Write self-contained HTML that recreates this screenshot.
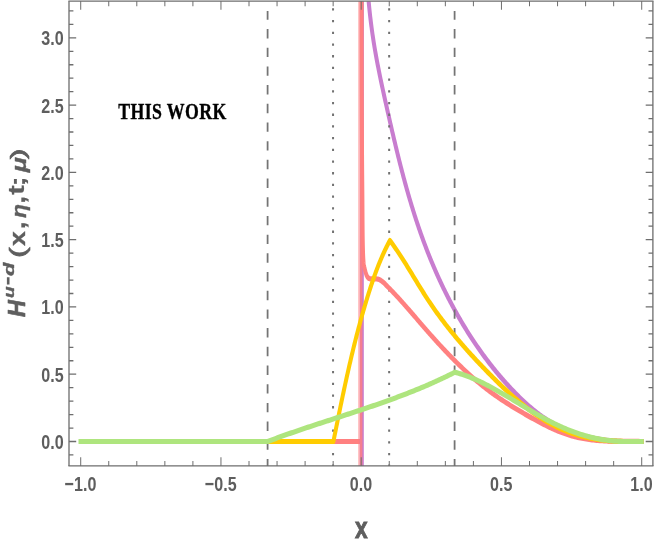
<!DOCTYPE html>
<html><head><meta charset="utf-8"><title>plot</title>
<style>html,body{margin:0;padding:0;background:#fff}svg{display:block}text{font-family:"Liberation Sans",sans-serif}</style></head><body>
<svg width="654" height="545" viewBox="0 0 654 545">
<rect width="654" height="545" fill="#fff"/>
<g transform="scale(0.7700,1)">
<defs><clipPath id="c"><rect x="89.61" y="1.20" width="758.31" height="464.70"/></clipPath></defs>
<g clip-path="url(#c)" fill="none" stroke-linejoin="round" stroke-linecap="square">
<path d="M105.19 441.50 L469.74 441.50 L469.87 480.00 L470.00 -90.00 L474.03 -90.00 L474.81 -80.00 L474.79 -78.51 L474.78 -77.01 L474.77 -75.52 L474.77 -74.03 L474.77 -72.53 L474.77 -71.04 L474.77 -69.55 L474.78 -68.05 L474.79 -66.56 L474.80 -65.07 L474.81 -63.57 L474.83 -62.08 L474.85 -60.59 L474.88 -59.09 L474.90 -57.60 L474.93 -56.11 L474.97 -54.61 L475.00 -53.12 L475.04 -51.62 L475.08 -50.13 L475.13 -48.64 L475.18 -47.14 L475.23 -45.65 L475.29 -44.16 L475.35 -42.66 L475.41 -41.17 L475.48 -39.67 L475.55 -38.18 L475.62 -36.69 L475.70 -35.19 L475.78 -33.70 L475.86 -32.21 L475.95 -30.71 L476.04 -29.22 L476.14 -27.73 L476.23 -26.23 L476.34 -24.74 L476.44 -23.25 L476.55 -21.76 L476.67 -20.26 L476.79 -18.77 L476.91 -17.28 L477.03 -15.78 L477.16 -14.29 L477.30 -12.80 L477.44 -11.31 L477.58 -9.82 L477.72 -8.32 L477.87 -6.83 L478.03 -5.34 L478.19 -3.85 L478.35 -2.36 L478.52 -0.87 L478.69 0.63 L478.86 2.12 L479.04 3.61 L479.23 5.10 L479.42 6.59 L479.61 8.08 L479.81 9.57 L480.01 11.06 L480.22 12.55 L480.43 14.04 L480.64 15.53 L480.86 17.02 L481.09 18.50 L481.32 19.99 L481.55 21.48 L481.79 22.97 L482.04 24.46 L482.29 25.95 L482.54 27.43 L482.80 28.92 L483.06 30.41 L483.33 31.89 L483.60 33.38 L483.88 34.87 L484.17 36.35 L484.46 37.84 L484.75 39.32 L485.05 40.81 L485.35 42.29 L485.66 43.78 L485.98 45.26 L486.29 46.75 L486.62 48.23 L486.95 49.71 L487.28 51.20 L487.61 52.68 L487.96 54.16 L488.30 55.65 L488.65 57.13 L489.00 58.61 L489.36 60.09 L489.72 61.57 L490.09 63.05 L490.45 64.53 L490.83 66.01 L491.20 67.49 L491.58 68.97 L491.96 70.45 L492.35 71.93 L492.73 73.40 L493.12 74.88 L493.52 76.36 L493.91 77.83 L494.31 79.31 L494.71 80.79 L495.11 82.26 L495.52 83.74 L495.93 85.21 L496.34 86.69 L496.75 88.16 L497.16 89.63 L497.58 91.11 L498.00 92.58 L498.41 94.05 L498.83 95.52 L499.26 96.99 L499.68 98.46 L500.10 99.93 L500.53 101.40 L500.95 102.87 L501.38 104.34 L501.81 105.81 L502.24 107.28 L502.66 108.75 L503.09 110.21 L503.52 111.68 L503.95 113.14 L504.38 114.61 L504.81 116.08 L505.25 117.54 L505.68 119.00 L506.11 120.47 L506.54 121.93 L506.98 123.39 L507.41 124.85 L507.85 126.31 L508.29 127.77 L508.72 129.23 L509.16 130.69 L509.60 132.15 L510.04 133.61 L510.49 135.07 L510.93 136.53 L511.38 137.98 L511.82 139.44 L512.27 140.89 L512.72 142.35 L513.17 143.80 L513.62 145.26 L514.07 146.71 L514.53 148.16 L514.98 149.61 L515.44 151.06 L515.90 152.51 L516.37 153.96 L516.83 155.41 L517.29 156.86 L517.76 158.31 L518.23 159.76 L518.70 161.20 L519.18 162.65 L519.65 164.09 L520.13 165.54 L520.61 166.98 L521.10 168.43 L521.58 169.87 L522.07 171.31 L522.56 172.75 L523.05 174.19 L523.55 175.63 L524.05 177.07 L524.55 178.51 L525.05 179.95 L525.56 181.38 L526.06 182.82 L526.58 184.25 L527.09 185.69 L527.61 187.12 L528.13 188.56 L528.65 189.99 L529.18 191.42 L529.71 192.85 L530.24 194.28 L530.78 195.71 L531.32 197.14 L531.86 198.57 L532.41 199.99 L532.96 201.42 L533.51 202.85 L534.07 204.27 L534.63 205.69 L535.20 207.12 L535.77 208.54 L536.34 209.96 L536.91 211.38 L537.49 212.80 L538.08 214.22 L538.67 215.64 L539.26 217.05 L539.85 218.47 L540.45 219.89 L541.06 221.30 L541.67 222.71 L542.28 224.13 L542.90 225.54 L543.52 226.95 L544.14 228.36 L544.77 229.77 L545.41 231.18 L546.05 232.59 L546.69 233.99 L547.34 235.40 L548.00 236.80 L548.65 238.21 L549.32 239.61 L549.99 241.01 L550.66 242.42 L551.34 243.82 L552.02 245.22 L552.71 246.61 L553.40 248.01 L554.10 249.41 L554.80 250.80 L555.51 252.20 L556.23 253.59 L556.95 254.98 L557.67 256.38 L558.40 257.77 L559.14 259.16 L559.88 260.54 L560.62 261.93 L561.38 263.32 L562.13 264.70 L562.89 266.08 L563.66 267.47 L564.43 268.85 L565.21 270.23 L566.00 271.60 L566.79 272.98 L567.58 274.35 L568.38 275.73 L569.19 277.10 L570.00 278.47 L570.81 279.83 L571.63 281.20 L572.46 282.57 L573.29 283.93 L574.13 285.29 L574.97 286.65 L575.82 288.01 L576.68 289.36 L577.54 290.71 L578.40 292.07 L579.27 293.42 L580.15 294.76 L581.03 296.11 L581.92 297.45 L582.81 298.79 L583.71 300.13 L584.62 301.47 L585.53 302.80 L586.44 304.14 L587.36 305.47 L588.29 306.79 L589.22 308.12 L590.16 309.44 L591.11 310.76 L592.05 312.08 L593.01 313.40 L593.97 314.71 L594.94 316.02 L595.91 317.33 L596.89 318.63 L597.87 319.93 L598.86 321.23 L599.85 322.53 L600.85 323.82 L601.86 325.12 L602.87 326.40 L603.89 327.69 L604.92 328.97 L605.94 330.25 L606.98 331.53 L608.02 332.80 L609.07 334.07 L610.12 335.34 L611.18 336.61 L612.24 337.87 L613.31 339.13 L614.39 340.38 L615.47 341.63 L616.56 342.88 L617.65 344.13 L618.75 345.37 L619.86 346.61 L620.97 347.84 L622.09 349.07 L623.21 350.30 L624.34 351.52 L625.48 352.74 L626.62 353.96 L627.76 355.18 L628.92 356.39 L630.08 357.59 L631.24 358.79 L632.41 359.99 L633.59 361.19 L634.77 362.38 L635.96 363.57 L637.16 364.75 L638.36 365.93 L639.56 367.10 L640.78 368.28 L642.00 369.44 L643.22 370.61 L644.45 371.77 L645.69 372.92 L646.94 374.07 L648.19 375.22 L649.44 376.36 L650.70 377.50 L651.97 378.63 L653.25 379.76 L654.53 380.89 L655.81 382.01 L657.11 383.12 L658.41 384.24 L659.71 385.34 L661.02 386.45 L662.34 387.54 L663.66 388.64 L664.99 389.73 L666.33 390.81 L667.67 391.89 L669.02 392.96 L670.38 394.03 L671.74 395.10 L673.11 396.15 L674.49 397.20 L675.87 398.25 L677.27 399.28 L678.67 400.31 L680.07 401.33 L681.49 402.35 L682.91 403.35 L684.35 404.35 L685.79 405.34 L687.24 406.32 L688.70 407.29 L690.17 408.25 L691.65 409.20 L693.14 410.14 L694.63 411.07 L696.14 411.99 L697.66 412.90 L699.19 413.79 L700.72 414.68 L702.27 415.55 L703.83 416.41 L705.40 417.26 L706.99 418.10 L708.58 418.92 L710.18 419.73 L711.80 420.52 L713.43 421.30 L715.07 422.07 L716.72 422.82 L718.39 423.55 L720.06 424.28 L721.75 424.98 L723.45 425.67 L725.16 426.35 L726.88 427.01 L728.61 427.66 L730.36 428.29 L732.11 428.91 L733.87 429.51 L735.64 430.10 L737.43 430.67 L739.22 431.23 L741.02 431.77 L742.83 432.30 L744.65 432.81 L746.48 433.30 L748.32 433.78 L750.16 434.25 L752.01 434.70 L753.88 435.13 L755.74 435.55 L757.62 435.95 L759.50 436.34 L761.39 436.71 L763.29 437.06 L765.19 437.41 L767.10 437.73 L769.01 438.05 L770.93 438.34 L772.85 438.63 L774.78 438.90 L776.71 439.16 L778.65 439.40 L780.59 439.63 L782.53 439.84 L784.48 440.05 L786.42 440.24 L788.37 440.41 L790.32 440.58 L792.28 440.73 L794.23 440.87 L796.19 440.99 L798.14 441.11 L800.10 441.21 L802.05 441.30 L804.01 441.38 L805.96 441.45 L807.92 441.50 L809.87 441.50 L811.82 441.50 L813.77 441.50 L815.71 441.50 L817.66 441.50 L819.60 441.50 L821.54 441.50 L823.47 441.50 L825.40 441.50 L827.33 441.50 L829.25 441.50 L831.16 441.50 L833.07 441.50" stroke="#c87dcf" stroke-width="5.20"/>
<path d="M347.53 11.00 V465.90" stroke="#747474" stroke-width="2.3" stroke-dasharray="9.4 9.295" stroke-dashoffset="0.7" stroke-linecap="butt"/>
<path d="M590.39 11.00 V465.90" stroke="#747474" stroke-width="2.3" stroke-dasharray="9.4 9.295" stroke-dashoffset="0.7" stroke-linecap="butt"/>
<path d="M432.53 8.30 V465.90" stroke="#727272" stroke-width="2.6" stroke-dasharray="2.3 9.4" stroke-dashoffset="0" stroke-linecap="butt"/>
<path d="M505.39 8.30 V465.90" stroke="#727272" stroke-width="2.6" stroke-dasharray="2.3 9.4" stroke-dashoffset="0" stroke-linecap="butt"/>
<path d="M105.19 441.50 L464.55 441.50" stroke="#ff8080" stroke-width="5.20"/>
<path d="M466.10 -5V480" stroke="#ff8080" stroke-width="2.1" stroke-opacity="0.5"/>
<path d="M468.90 -5V480" stroke="#ff8080" stroke-width="3.5" stroke-opacity="0.8"/>
<path d="M469.61 -90.00 L469.61 -90.00 L469.61 -89.50 L469.61 -89.00 L469.61 -88.50 L469.61 -88.00 L469.61 -87.50 L469.61 -87.00 L469.61 -86.50 L469.61 -86.00 L469.61 -85.50 L469.61 -85.00 L469.61 -84.50 L469.61 -84.00 L469.61 -83.50 L469.61 -83.00 L469.61 -82.50 L469.61 -82.00 L469.61 -81.50 L469.61 -81.00 L469.61 -80.50 L469.61 -80.01 L469.61 -79.51 L469.61 -79.01 L469.61 -78.51 L469.61 -78.01 L469.61 -77.51 L469.61 -77.01 L469.61 -76.51 L469.61 -76.01 L469.61 -75.51 L469.61 -75.01 L469.61 -74.51 L469.61 -74.01 L469.61 -73.51 L469.61 -73.01 L469.61 -72.51 L469.61 -72.01 L469.61 -71.51 L469.61 -71.01 L469.61 -70.51 L469.61 -70.01 L469.61 -69.51 L469.61 -69.01 L469.61 -68.51 L469.61 -68.01 L469.61 -67.51 L469.61 -67.01 L469.61 -66.51 L469.61 -66.01 L469.61 -65.51 L469.61 -65.01 L469.61 -64.51 L469.61 -64.01 L469.61 -63.51 L469.61 -63.01 L469.61 -62.51 L469.61 -62.01 L469.61 -61.51 L469.61 -61.01 L469.61 -60.52 L469.61 -60.02 L469.61 -59.52 L469.61 -59.02 L469.61 -58.52 L469.61 -58.02 L469.61 -57.52 L469.61 -57.02 L469.61 -56.52 L469.61 -56.02 L469.61 -55.52 L469.61 -55.02 L469.61 -54.52 L469.61 -54.02 L469.61 -53.52 L469.61 -53.02 L469.61 -52.52 L469.61 -52.02 L469.61 -51.52 L469.61 -51.02 L469.61 -50.52 L469.61 -50.02 L469.61 -49.52 L469.61 -49.02 L469.61 -48.52 L469.61 -48.02 L469.61 -47.52 L469.61 -47.02 L469.61 -46.52 L469.61 -46.02 L469.61 -45.52 L469.61 -45.02 L469.61 -44.52 L469.61 -44.02 L469.61 -43.52 L469.61 -43.02 L469.61 -42.52 L469.61 -42.02 L469.61 -41.52 L469.61 -41.03 L469.61 -40.53 L469.61 -40.03 L469.61 -39.53 L469.61 -39.03 L469.61 -38.53 L469.61 -38.03 L469.61 -37.53 L469.61 -37.03 L469.61 -36.53 L469.61 -36.03 L469.61 -35.53 L469.61 -35.03 L469.61 -34.53 L469.61 -34.03 L469.61 -33.53 L469.61 -33.03 L469.61 -32.53 L469.61 -32.03 L469.61 -31.53 L469.61 -31.03 L469.61 -30.53 L469.61 -30.03 L469.61 -29.53 L469.61 -29.03 L469.61 -28.53 L469.61 -28.03 L469.61 -27.53 L469.61 -27.03 L469.61 -26.53 L469.61 -26.03 L469.61 -25.53 L469.61 -25.03 L469.61 -24.53 L469.61 -24.03 L469.61 -23.53 L469.61 -23.03 L469.61 -22.53 L469.61 -22.03 L469.61 -21.53 L469.61 -21.04 L469.61 -20.54 L469.61 -20.04 L469.61 -19.54 L469.61 -19.04 L469.61 -18.54 L469.61 -18.04 L469.61 -17.54 L469.61 -17.04 L469.61 -16.54 L469.61 -16.04 L469.61 -15.54 L469.61 -15.04 L469.61 -14.54 L469.61 -14.04 L469.61 -13.54 L469.61 -13.04 L469.61 -12.54 L469.61 -12.04 L469.61 -11.54 L469.61 -11.04 L469.61 -10.54 L469.61 -10.04 L469.61 -9.54 L469.61 -9.04 L469.61 -8.54 L469.61 -8.04 L469.61 -7.54 L469.61 -7.04 L469.61 -6.54 L469.61 -6.04 L469.61 -5.54 L469.61 -5.04 L469.61 -4.54 L469.61 -4.04 L469.61 -3.54 L469.61 -3.04 L469.61 -2.54 L469.61 -2.04 L469.61 -1.55 L469.61 -1.05 L469.61 -0.55 L469.61 -0.05 L469.61 0.45 L469.61 0.95 L469.61 1.45 L469.61 1.95 L469.61 2.45 L469.61 2.95 L469.61 3.45 L469.61 3.95 L469.61 4.45 L469.61 4.95 L469.61 5.45 L469.61 5.95 L469.61 6.45 L469.61 6.95 L469.61 7.45 L469.61 7.95 L469.61 8.45 L469.61 8.95 L469.61 9.45 L469.61 9.95 L469.61 10.45 L469.61 10.95 L469.61 11.45 L469.61 11.95 L469.61 12.45 L469.62 12.95 L469.62 13.45 L469.62 13.95 L469.62 14.45 L469.62 14.95 L469.62 15.45 L469.62 15.95 L469.62 16.45 L469.62 16.95 L469.62 17.45 L469.62 17.94 L469.62 18.44 L469.62 18.94 L469.62 19.44 L469.62 19.94 L469.62 20.44 L469.62 20.94 L469.62 21.44 L469.62 21.94 L469.62 22.44 L469.62 22.94 L469.62 23.44 L469.63 23.94 L469.63 24.44 L469.63 24.94 L469.63 25.44 L469.63 25.94 L469.63 26.44 L469.63 26.94 L469.63 27.44 L469.63 27.94 L469.63 28.44 L469.63 28.94 L469.63 29.44 L469.63 29.94 L469.63 30.44 L469.63 30.94 L469.64 31.44 L469.64 31.94 L469.64 32.44 L469.64 32.94 L469.64 33.44 L469.64 33.94 L469.64 34.44 L469.64 34.94 L469.64 35.44 L469.64 35.94 L469.64 36.44 L469.64 36.94 L469.65 37.43 L469.65 37.93 L469.65 38.43 L469.65 38.93 L469.65 39.43 L469.65 39.93 L469.65 40.43 L469.65 40.93 L469.65 41.43 L469.65 41.93 L469.65 42.43 L469.66 42.93 L469.66 43.43 L469.66 43.93 L469.66 44.43 L469.66 44.93 L469.66 45.43 L469.66 45.93 L469.66 46.43 L469.66 46.93 L469.66 47.43 L469.67 47.93 L469.67 48.43 L469.67 48.93 L469.67 49.43 L469.67 49.93 L469.67 50.43 L469.67 50.93 L469.67 51.43 L469.67 51.93 L469.67 52.43 L469.68 52.93 L469.68 53.43 L469.68 53.93 L469.68 54.43 L469.68 54.93 L469.68 55.43 L469.68 55.93 L469.68 56.43 L469.68 56.92 L469.69 57.42 L469.69 57.92 L469.69 58.42 L469.69 58.92 L469.69 59.42 L469.69 59.92 L469.69 60.42 L469.69 60.92 L469.69 61.42 L469.70 61.92 L469.70 62.42 L469.70 62.92 L469.70 63.42 L469.70 63.92 L469.70 64.42 L469.70 64.92 L469.70 65.42 L469.71 65.92 L469.71 66.42 L469.71 66.92 L469.71 67.42 L469.71 67.92 L469.71 68.42 L469.71 68.92 L469.71 69.42 L469.71 69.92 L469.72 70.42 L469.72 70.92 L469.72 71.42 L469.72 71.92 L469.72 72.42 L469.72 72.92 L469.72 73.42 L469.72 73.92 L469.73 74.42 L469.73 74.92 L469.73 75.42 L469.73 75.92 L469.73 76.41 L469.73 76.91 L469.73 77.41 L469.73 77.91 L469.74 78.41 L469.74 78.91 L469.74 79.41 L469.74 79.91 L469.74 80.41 L469.74 80.91 L469.74 81.41 L469.75 81.91 L469.75 82.41 L469.75 82.91 L469.75 83.41 L469.75 83.91 L469.75 84.41 L469.75 84.91 L469.76 85.41 L469.76 85.91 L469.76 86.41 L469.76 86.91 L469.76 87.41 L469.76 87.91 L469.77 88.41 L469.77 88.91 L469.77 89.41 L469.77 89.91 L469.77 90.41 L469.77 90.91 L469.78 91.41 L469.78 91.91 L469.78 92.41 L469.78 92.91 L469.78 93.41 L469.79 93.91 L469.79 94.41 L469.79 94.91 L469.79 95.41 L469.80 95.90 L469.80 96.40 L469.80 96.90 L469.80 97.40 L469.80 97.90 L469.81 98.40 L469.81 98.90 L469.81 99.40 L469.81 99.90 L469.82 100.40 L469.82 100.90 L469.82 101.40 L469.82 101.90 L469.82 102.40 L469.83 102.90 L469.83 103.40 L469.83 103.90 L469.83 104.40 L469.84 104.90 L469.84 105.40 L469.84 105.90 L469.85 106.40 L469.85 106.90 L469.85 107.40 L469.85 107.90 L469.86 108.40 L469.86 108.90 L469.86 109.40 L469.86 109.90 L469.87 110.40 L469.87 110.90 L469.87 111.40 L469.87 111.90 L469.88 112.40 L469.88 112.90 L469.88 113.40 L469.89 113.90 L469.89 114.40 L469.89 114.90 L469.90 115.39 L469.90 115.89 L469.90 116.39 L469.90 116.89 L469.91 117.39 L469.91 117.89 L469.91 118.39 L469.92 118.89 L469.92 119.39 L469.92 119.89 L469.93 120.39 L469.93 120.89 L469.93 121.39 L469.93 121.89 L469.94 122.39 L469.94 122.89 L469.94 123.39 L469.95 123.89 L469.95 124.39 L469.95 124.89 L469.96 125.39 L469.96 125.89 L469.96 126.39 L469.97 126.89 L469.97 127.39 L469.97 127.89 L469.98 128.39 L469.98 128.89 L469.98 129.39 L469.99 129.89 L469.99 130.39 L469.99 130.89 L470.00 131.39 L470.00 131.89 L470.00 132.39 L470.01 132.89 L470.01 133.39 L470.01 133.89 L470.02 134.38 L470.02 134.88 L470.02 135.38 L470.03 135.88 L470.03 136.38 L470.04 136.88 L470.04 137.38 L470.04 137.88 L470.05 138.38 L470.05 138.88 L470.05 139.38 L470.06 139.88 L470.06 140.38 L470.06 140.88 L470.07 141.38 L470.07 141.88 L470.07 142.38 L470.08 142.88 L470.08 143.38 L470.09 143.88 L470.09 144.38 L470.09 144.88 L470.10 145.38 L470.10 145.88 L470.10 146.38 L470.11 146.88 L470.11 147.38 L470.11 147.88 L470.12 148.38 L470.12 148.88 L470.13 149.38 L470.13 149.88 L470.13 150.38 L470.14 150.88 L470.14 151.38 L470.14 151.88 L470.15 152.38 L470.15 152.88 L470.16 153.37 L470.16 153.87 L470.16 154.37 L470.17 154.87 L470.17 155.37 L470.18 155.87 L470.18 156.37 L470.19 156.87 L470.19 157.37 L470.20 157.87 L470.20 158.37 L470.21 158.87 L470.21 159.37 L470.21 159.87 L470.22 160.37 L470.22 160.87 L470.23 161.37 L470.23 161.87 L470.24 162.37 L470.24 162.87 L470.25 163.37 L470.25 163.87 L470.26 164.37 L470.27 164.87 L470.27 165.37 L470.28 165.87 L470.28 166.37 L470.29 166.87 L470.29 167.37 L470.30 167.87 L470.30 168.37 L470.31 168.87 L470.31 169.37 L470.32 169.87 L470.32 170.37 L470.33 170.87 L470.34 171.37 L470.34 171.86 L470.35 172.36 L470.35 172.86 L470.36 173.36 L470.36 173.86 L470.37 174.36 L470.38 174.86 L470.38 175.36 L470.39 175.86 L470.39 176.36 L470.40 176.86 L470.40 177.36 L470.41 177.86 L470.42 178.36 L470.42 178.86 L470.43 179.36 L470.43 179.86 L470.44 180.36 L470.44 180.86 L470.45 181.36 L470.46 181.86 L470.46 182.36 L470.47 182.86 L470.47 183.36 L470.48 183.86 L470.48 184.36 L470.49 184.86 L470.50 185.36 L470.50 185.86 L470.51 186.36 L470.51 186.86 L470.52 187.36 L470.52 187.86 L470.53 188.36 L470.53 188.86 L470.54 189.36 L470.55 189.86 L470.55 190.35 L470.56 190.85 L470.56 191.35 L470.57 191.85 L470.57 192.35 L470.58 192.85 L470.58 193.35 L470.59 193.85 L470.59 194.35 L470.60 194.85 L470.60 195.35 L470.61 195.85 L470.61 196.35 L470.62 196.85 L470.62 197.35 L470.63 197.85 L470.63 198.35 L470.64 198.85 L470.64 199.35 L470.65 199.85 L470.65 200.35 L470.66 200.85 L470.66 201.35 L470.67 201.85 L470.67 202.35 L470.67 202.85 L470.68 203.35 L470.68 203.85 L470.69 204.35 L470.69 204.85 L470.69 205.35 L470.70 205.85 L470.70 206.35 L470.71 206.85 L470.71 207.35 L470.71 207.85 L470.72 208.35 L470.72 208.84 L470.73 209.34 L470.73 209.84 L470.73 210.34 L470.74 210.84 L470.74 211.34 L470.74 211.84 L470.75 212.34 L470.75 212.84 L470.75 213.34 L470.76 213.84 L470.76 214.34 L470.77 214.84 L470.77 215.34 L470.77 215.84 L470.78 216.34 L470.78 216.84 L470.78 217.34 L470.79 217.84 L470.79 218.34 L470.80 218.84 L470.80 219.34 L470.80 219.84 L470.81 220.34 L470.81 220.84 L470.82 221.34 L470.82 221.84 L470.83 222.34 L470.83 222.84 L470.84 223.34 L470.84 223.84 L470.85 224.34 L470.85 224.84 L470.86 225.34 L470.86 225.84 L470.87 226.34 L470.87 226.84 L470.88 227.34 L470.88 227.83 L470.89 228.33 L470.89 228.83 L470.90 229.33 L470.91 229.83 L470.91 230.33 L470.92 230.83 L470.93 231.33 L470.93 231.83 L470.94 232.33 L470.95 232.83 L470.96 233.33 L470.96 233.83 L470.97 234.33 L470.98 234.83 L470.99 235.33 L471.00 235.83 L471.01 236.33 L471.02 236.83 L471.03 237.33 L471.04 237.83 L471.05 238.33 L471.06 238.83 L471.07 239.33 L471.08 239.83 L471.09 240.33 L471.10 240.83 L471.11 241.33 L471.13 241.83 L471.14 242.33 L471.15 242.83 L471.16 243.33 L471.18 243.83 L471.19 244.33 L471.20 244.82 L471.22 245.32 L471.23 245.82 L471.25 246.32 L471.26 246.82 L471.28 247.32 L471.29 247.82 L471.31 248.32 L471.33 248.82 L471.34 249.32 L471.36 249.82 L471.38 250.32 L471.39 250.82 L471.41 251.32 L471.43 251.82 L471.45 252.33 L471.47 252.83 L471.50 253.33 L471.52 253.83 L471.54 254.33 L471.57 254.83 L471.59 255.33 L471.62 255.83 L471.65 256.33 L471.68 256.83 L471.71 257.33 L471.74 257.83 L471.78 258.33 L471.81 258.83 L471.85 259.32 L471.89 259.82 L471.93 260.32 L471.97 260.81 L472.01 261.31 L472.06 261.80 L472.11 262.30 L472.17 262.79 L472.24 263.29 L472.32 263.78 L472.42 264.28 L472.52 264.77 L472.63 265.27 L472.75 265.76 L472.88 266.25 L473.01 266.75 L473.15 267.24 L473.30 267.73 L473.45 268.22 L473.61 268.71 L473.77 269.19 L473.93 269.68 L474.10 270.16 L474.26 270.65 L474.43 271.13 L474.61 271.60 L474.78 272.08 L474.95 272.57 L475.14 273.07 L475.33 273.56 L475.54 274.06 L475.75 274.55 L475.99 275.03 L476.23 275.50 L476.50 275.95 L476.78 276.38 L477.09 276.79 L477.43 277.17 L477.84 277.57 L478.32 277.97 L478.85 278.32 L479.41 278.58 L479.98 278.72 L480.59 278.79 L481.25 278.85 L481.92 278.89 L482.58 278.90 L483.22 278.89 L483.87 278.86 L484.52 278.83 L485.17 278.81 L485.82 278.80 L486.47 278.81 L487.13 278.83 L487.79 278.86 L488.45 278.90 L489.10 278.95 L489.74 279.00 L490.37 279.06 L490.98 279.12 L491.58 279.24 L492.17 279.40 L492.76 279.61 L493.34 279.85 L493.91 280.12 L494.47 280.41 L495.03 280.72 L495.57 281.03 L496.10 281.33 L496.63 281.63 L497.14 281.92 L497.65 282.22 L498.14 282.54 L498.62 282.87 L499.10 283.21 L499.57 283.56 L501.03 284.86 L502.43 285.93 L503.82 286.99 L505.21 288.06 L506.58 289.14 L507.95 290.21 L509.31 291.30 L510.65 292.38 L512.00 293.47 L513.33 294.56 L514.66 295.65 L515.98 296.75 L517.29 297.84 L518.60 298.94 L519.90 300.05 L521.19 301.15 L522.48 302.26 L523.77 303.37 L525.05 304.48 L526.33 305.60 L527.60 306.71 L528.87 307.83 L530.14 308.95 L531.41 310.07 L532.67 311.19 L533.93 312.31 L535.19 313.44 L536.45 314.56 L537.71 315.69 L538.97 316.81 L540.22 317.94 L541.48 319.07 L542.74 320.20 L544.00 321.32 L545.26 322.45 L546.52 323.58 L547.79 324.71 L549.05 325.84 L550.32 326.96 L551.59 328.09 L552.87 329.22 L554.15 330.34 L555.43 331.47 L556.71 332.59 L558.00 333.72 L559.29 334.84 L560.58 335.96 L561.87 337.08 L563.17 338.20 L564.47 339.32 L565.78 340.43 L567.09 341.55 L568.40 342.66 L569.71 343.77 L571.03 344.88 L572.35 345.98 L573.68 347.09 L575.01 348.19 L576.34 349.29 L577.68 350.38 L579.02 351.48 L580.37 352.57 L581.72 353.65 L583.07 354.74 L584.43 355.82 L585.79 356.90 L587.15 357.97 L588.52 359.04 L589.90 360.11 L591.28 361.17 L592.66 362.23 L594.05 363.28 L595.44 364.34 L596.83 365.38 L598.24 366.43 L599.64 367.46 L601.05 368.50 L602.47 369.53 L603.89 370.55 L605.32 371.57 L606.75 372.58 L608.18 373.59 L609.62 374.59 L611.07 375.59 L612.52 376.59 L613.98 377.57 L615.44 378.55 L616.91 379.53 L618.38 380.50 L619.86 381.46 L621.35 382.42 L622.84 383.37 L624.33 384.32 L625.83 385.25 L627.34 386.19 L628.86 387.11 L630.37 388.03 L631.90 388.94 L633.43 389.85 L634.97 390.74 L636.51 391.63 L638.06 392.51 L639.62 393.39 L641.18 394.26 L642.75 395.12 L644.33 395.98 L645.91 396.82 L647.49 397.67 L649.09 398.50 L650.68 399.33 L652.29 400.16 L653.90 400.98 L655.51 401.79 L657.14 402.60 L658.76 403.41 L660.40 404.21 L662.03 405.00 L663.68 405.79 L665.33 406.58 L666.98 407.36 L668.64 408.14 L670.31 408.92 L671.98 409.69 L673.66 410.45 L675.34 411.22 L677.03 411.98 L678.72 412.74 L680.42 413.50 L682.12 414.25 L683.83 415.00 L685.54 415.75 L687.26 416.50 L688.98 417.24 L690.71 417.99 L692.44 418.73 L694.18 419.47 L695.92 420.20 L697.67 420.93 L699.42 421.66 L701.17 422.37 L702.93 423.09 L704.70 423.79 L706.47 424.49 L708.24 425.18 L710.02 425.86 L711.81 426.53 L713.59 427.19 L715.39 427.84 L717.18 428.48 L718.98 429.11 L720.79 429.72 L722.60 430.32 L724.41 430.91 L726.23 431.48 L728.05 432.04 L729.87 432.58 L731.70 433.10 L733.54 433.61 L735.37 434.10 L737.21 434.57 L739.06 435.03 L740.91 435.46 L742.76 435.87 L744.62 436.27 L746.48 436.64 L748.34 437.00 L750.21 437.34 L752.08 437.66 L753.95 437.96 L755.83 438.24 L757.71 438.51 L759.59 438.77 L761.48 439.01 L763.37 439.23 L765.26 439.44 L767.16 439.64 L769.06 439.82 L770.96 439.99 L772.87 440.15 L774.78 440.29 L776.69 440.42 L778.61 440.55 L780.53 440.66 L782.45 440.76 L784.37 440.85 L786.30 440.94 L788.23 441.01 L790.16 441.08 L792.09 441.14 L794.03 441.19 L795.97 441.24 L797.92 441.27 L799.86 441.31 L801.81 441.34 L803.76 441.36 L805.71 441.38 L807.67 441.39 L809.62 441.41 L811.58 441.42 L813.54 441.42 L815.51 441.43 L817.47 441.43 L819.44 441.43 L821.41 441.44 L823.38 441.44 L825.36 441.44 L827.34 441.45 L829.31 441.45 L831.29 441.50 L833.27 441.50" stroke="#ff8080" stroke-width="5.20"/>
<path d="M105.19 441.50 L432.73 441.50 L432.99 441.50 L433.37 440.04 L433.75 438.59 L434.13 437.13 L434.51 435.67 L434.89 434.21 L435.27 432.76 L435.65 431.30 L436.04 429.84 L436.42 428.37 L436.80 426.91 L437.19 425.45 L437.57 423.99 L437.95 422.53 L438.34 421.06 L438.72 419.60 L439.11 418.13 L439.50 416.67 L439.89 415.20 L440.27 413.74 L440.66 412.27 L441.05 410.81 L441.45 409.34 L441.84 407.87 L442.23 406.41 L442.62 404.94 L443.02 403.47 L443.42 402.00 L443.81 400.54 L444.21 399.07 L444.61 397.60 L445.01 396.13 L445.41 394.66 L445.82 393.20 L446.22 391.73 L446.63 390.26 L447.04 388.79 L447.44 387.32 L447.85 385.86 L448.27 384.39 L448.68 382.92 L449.09 381.45 L449.51 379.98 L449.93 378.52 L450.35 377.05 L450.77 375.58 L451.19 374.11 L451.62 372.65 L452.05 371.18 L452.48 369.72 L452.91 368.25 L453.34 366.78 L453.77 365.32 L454.21 363.86 L454.65 362.39 L455.09 360.93 L455.53 359.46 L455.98 358.00 L456.43 356.54 L456.88 355.08 L457.33 353.62 L457.78 352.16 L458.24 350.70 L458.70 349.24 L459.16 347.78 L459.63 346.32 L460.09 344.86 L460.56 343.41 L461.03 341.95 L461.51 340.49 L461.99 339.04 L462.47 337.59 L462.95 336.13 L463.43 334.68 L463.92 333.23 L464.41 331.78 L464.91 330.33 L465.40 328.88 L465.90 327.44 L466.41 325.99 L466.91 324.54 L467.42 323.10 L467.93 321.66 L468.45 320.21 L468.96 318.77 L469.49 317.33 L470.01 315.89 L470.54 314.46 L471.07 313.02 L471.60 311.58 L472.14 310.15 L472.68 308.72 L473.23 307.29 L473.78 305.86 L474.33 304.43 L474.88 303.00 L475.44 301.57 L476.00 300.15 L476.57 298.72 L477.14 297.30 L477.71 295.88 L478.29 294.46 L478.87 293.04 L479.45 291.63 L480.04 290.21 L480.63 288.80 L481.23 287.39 L481.83 285.98 L482.44 284.57 L483.05 283.16 L483.66 281.76 L484.28 280.36 L484.91 278.95 L485.55 277.55 L486.19 276.16 L486.84 274.76 L487.49 273.37 L488.16 271.97 L488.83 270.58 L489.51 269.19 L490.20 267.81 L490.90 266.42 L491.61 265.04 L492.32 263.66 L493.05 262.28 L493.79 260.90 L494.54 259.53 L495.30 258.15 L496.07 256.78 L496.86 255.41 L497.65 254.05 L498.46 252.68 L499.28 251.32 L500.12 249.96 L500.97 248.60 L501.83 247.24 L502.71 245.89 L503.60 244.54 L504.50 243.19 L505.43 241.84 L506.36 240.50 L507.51 241.68 L508.64 242.87 L509.77 244.06 L510.89 245.27 L512.00 246.47 L513.10 247.69 L514.20 248.91 L515.29 250.14 L516.37 251.37 L517.45 252.61 L518.52 253.85 L519.58 255.10 L520.65 256.35 L521.70 257.61 L522.75 258.87 L523.80 260.14 L524.84 261.41 L525.88 262.68 L526.92 263.95 L527.95 265.23 L528.98 266.51 L530.01 267.79 L531.04 269.08 L532.06 270.37 L533.09 271.65 L534.11 272.94 L535.13 274.23 L536.15 275.52 L537.17 276.81 L538.19 278.11 L539.21 279.40 L540.23 280.69 L541.25 281.98 L542.28 283.27 L543.30 284.56 L544.33 285.84 L545.36 287.13 L546.39 288.41 L547.42 289.69 L548.46 290.97 L549.50 292.25 L550.54 293.52 L551.59 294.79 L552.64 296.06 L553.70 297.32 L554.76 298.58 L555.83 299.84 L556.90 301.09 L557.98 302.33 L559.07 303.57 L560.16 304.81 L561.25 306.04 L562.35 307.27 L563.46 308.50 L564.57 309.72 L565.69 310.93 L566.81 312.15 L567.94 313.35 L569.07 314.56 L570.21 315.76 L571.35 316.95 L572.50 318.15 L573.66 319.34 L574.81 320.52 L575.98 321.70 L577.15 322.88 L578.32 324.06 L579.50 325.23 L580.69 326.39 L581.88 327.56 L583.07 328.72 L584.27 329.88 L585.48 331.03 L586.69 332.19 L587.90 333.33 L589.12 334.48 L590.35 335.62 L591.58 336.76 L592.81 337.90 L594.05 339.04 L595.29 340.17 L596.54 341.30 L597.79 342.42 L599.05 343.55 L600.31 344.67 L601.58 345.79 L602.85 346.91 L604.13 348.02 L605.41 349.13 L606.69 350.24 L607.98 351.35 L609.27 352.46 L610.57 353.56 L611.88 354.66 L613.18 355.76 L614.49 356.86 L615.81 357.96 L617.13 359.06 L618.45 360.15 L619.78 361.24 L621.11 362.33 L622.45 363.42 L623.79 364.51 L625.14 365.59 L626.48 366.68 L627.84 367.76 L629.19 368.84 L630.56 369.93 L631.92 371.01 L633.29 372.08 L634.66 373.16 L636.04 374.24 L637.42 375.32 L638.80 376.39 L640.19 377.47 L641.59 378.54 L642.98 379.61 L644.38 380.68 L645.79 381.74 L647.20 382.80 L648.61 383.87 L650.03 384.92 L651.46 385.98 L652.89 387.03 L654.32 388.07 L655.76 389.12 L657.20 390.16 L658.65 391.19 L660.10 392.22 L661.56 393.25 L663.02 394.27 L664.49 395.28 L665.97 396.29 L667.45 397.29 L668.93 398.29 L670.43 399.28 L671.92 400.26 L673.43 401.24 L674.94 402.21 L676.45 403.18 L677.97 404.13 L679.50 405.08 L681.03 406.02 L682.57 406.95 L684.12 407.88 L685.67 408.79 L687.23 409.70 L688.79 410.60 L690.36 411.49 L691.94 412.37 L693.53 413.24 L695.12 414.10 L696.72 414.94 L698.33 415.78 L699.94 416.61 L701.56 417.43 L703.19 418.23 L704.83 419.03 L706.47 419.81 L708.12 420.58 L709.78 421.34 L711.44 422.09 L713.12 422.82 L714.80 423.55 L716.49 424.26 L718.18 424.95 L719.89 425.63 L721.60 426.30 L723.32 426.96 L725.05 427.60 L726.79 428.22 L728.54 428.84 L730.29 429.43 L732.06 430.01 L733.83 430.58 L735.61 431.13 L737.40 431.67 L739.20 432.19 L741.01 432.69 L742.82 433.18 L744.65 433.65 L746.48 434.10 L748.32 434.54 L750.17 434.97 L752.03 435.37 L753.89 435.77 L755.76 436.15 L757.64 436.51 L759.53 436.86 L761.42 437.20 L763.31 437.52 L765.21 437.82 L767.12 438.12 L769.03 438.40 L770.95 438.66 L772.87 438.92 L774.79 439.16 L776.72 439.39 L778.66 439.60 L780.59 439.80 L782.53 440.00 L784.47 440.17 L786.42 440.34 L788.36 440.50 L790.31 440.64 L792.26 440.78 L794.21 440.90 L796.16 441.01 L798.12 441.11 L800.07 441.20 L802.03 441.28 L803.98 441.35 L805.93 441.41 L807.89 441.47 L809.84 441.50 L811.79 441.50 L813.74 441.50 L815.69 441.50 L817.63 441.50 L819.58 441.50 L821.52 441.50 L823.45 441.50 L825.39 441.50 L827.32 441.50 L829.25 441.50 L831.17 441.50 L833.09 441.50" stroke="#ffcc00" stroke-width="5.20"/>
<path d="M104.55 441.50 L347.01 441.50 L347.53 441.50 L349.34 440.97 L351.15 440.45 L352.96 439.93 L354.78 439.41 L356.59 438.89 L358.41 438.38 L360.22 437.87 L362.04 437.36 L363.86 436.86 L365.68 436.35 L367.51 435.85 L369.33 435.35 L371.15 434.85 L372.98 434.36 L374.81 433.86 L376.63 433.37 L378.46 432.88 L380.29 432.40 L382.12 431.91 L383.96 431.42 L385.79 430.94 L387.62 430.46 L389.46 429.98 L391.29 429.50 L393.13 429.03 L394.97 428.55 L396.80 428.08 L398.64 427.60 L400.48 427.13 L402.32 426.66 L404.16 426.19 L406.00 425.72 L407.84 425.25 L409.69 424.78 L411.53 424.32 L413.37 423.85 L415.21 423.39 L417.06 422.92 L418.90 422.46 L420.74 422.00 L422.59 421.53 L424.43 421.07 L426.28 420.61 L428.12 420.15 L429.97 419.68 L431.81 419.22 L433.66 418.76 L435.50 418.30 L437.35 417.84 L439.19 417.38 L441.04 416.91 L442.88 416.45 L444.73 415.99 L446.57 415.53 L448.42 415.06 L450.26 414.60 L452.11 414.14 L453.95 413.67 L455.79 413.21 L457.64 412.74 L459.48 412.27 L461.32 411.81 L463.16 411.34 L465.01 410.87 L466.85 410.40 L468.69 409.93 L470.53 409.45 L472.37 408.98 L474.21 408.51 L476.04 408.03 L477.88 407.55 L479.72 407.07 L481.55 406.59 L483.39 406.11 L485.22 405.63 L487.05 405.14 L488.89 404.66 L490.72 404.17 L492.55 403.68 L494.38 403.19 L496.21 402.69 L498.03 402.20 L499.86 401.70 L501.68 401.20 L503.51 400.70 L505.33 400.19 L507.15 399.68 L508.97 399.18 L510.79 398.66 L512.61 398.15 L514.42 397.63 L516.24 397.11 L518.05 396.59 L519.86 396.07 L521.68 395.54 L523.48 395.01 L525.29 394.48 L527.10 393.94 L528.90 393.40 L530.70 392.86 L532.51 392.32 L534.30 391.77 L536.10 391.22 L537.90 390.66 L539.69 390.10 L541.48 389.54 L543.27 388.98 L545.06 388.41 L546.85 387.84 L548.63 387.26 L550.41 386.68 L552.19 386.10 L553.97 385.51 L555.75 384.92 L557.52 384.33 L559.29 383.73 L561.06 383.13 L562.83 382.52 L564.60 381.91 L566.36 381.29 L568.12 380.67 L569.88 380.05 L571.63 379.42 L573.39 378.79 L575.14 378.15 L576.89 377.51 L578.63 376.86 L580.38 376.21 L582.12 375.55 L583.85 374.89 L585.59 374.23 L587.32 373.56 L589.05 372.88 L590.78 372.20 L592.63 372.59 L594.47 372.99 L596.30 373.41 L598.13 373.85 L599.95 374.31 L601.76 374.78 L603.57 375.26 L605.37 375.76 L607.17 376.27 L608.96 376.80 L610.75 377.35 L612.53 377.90 L614.30 378.47 L616.08 379.05 L617.84 379.65 L619.60 380.25 L621.36 380.87 L623.11 381.50 L624.86 382.14 L626.60 382.79 L628.35 383.45 L630.08 384.12 L631.81 384.80 L633.54 385.49 L635.27 386.18 L636.99 386.89 L638.71 387.60 L640.43 388.32 L642.15 389.05 L643.86 389.78 L645.57 390.52 L647.27 391.27 L648.98 392.02 L650.68 392.78 L652.38 393.55 L654.08 394.31 L655.78 395.09 L657.48 395.86 L659.17 396.64 L660.87 397.42 L662.56 398.21 L664.25 399.00 L665.94 399.78 L667.64 400.58 L669.33 401.37 L671.02 402.16 L672.71 402.95 L674.40 403.75 L676.09 404.54 L677.78 405.33 L679.47 406.13 L681.17 406.92 L682.86 407.71 L684.55 408.49 L686.25 409.28 L687.95 410.06 L689.64 410.84 L691.34 411.61 L693.05 412.38 L694.75 413.15 L696.45 413.91 L698.16 414.67 L699.87 415.42 L701.58 416.16 L703.30 416.90 L705.02 417.64 L706.74 418.36 L708.46 419.08 L710.19 419.79 L711.92 420.49 L713.65 421.19 L715.39 421.88 L717.13 422.55 L718.87 423.22 L720.62 423.88 L722.37 424.53 L724.13 425.17 L725.89 425.80 L727.65 426.42 L729.42 427.02 L731.19 427.62 L732.97 428.21 L734.75 428.79 L736.53 429.36 L738.32 429.91 L740.11 430.46 L741.91 430.99 L743.71 431.51 L745.51 432.02 L747.32 432.52 L749.13 433.01 L750.95 433.49 L752.77 433.95 L754.60 434.40 L756.43 434.84 L758.26 435.26 L760.10 435.68 L761.94 436.08 L763.79 436.46 L765.64 436.84 L767.50 437.20 L769.36 437.54 L771.22 437.87 L773.09 438.19 L774.97 438.50 L776.85 438.79 L778.73 439.06 L780.62 439.32 L782.51 439.57 L784.41 439.80 L786.31 440.02 L788.22 440.23 L790.13 440.42 L792.04 440.59 L793.97 440.75 L795.89 440.90 L797.82 441.04 L799.76 441.16 L801.70 441.26 L803.64 441.36 L805.60 441.44 L807.55 441.50 L809.51 441.50 L811.48 441.50 L813.45 441.50 L815.42 441.50 L817.40 441.50 L819.39 441.50 L821.38 441.50 L823.38 441.50 L825.38 441.50 L827.39 441.50 L829.40 441.50 L831.42 441.50 L833.44 441.50" stroke="#aee57e" stroke-width="5.20"/>
</g>
<path d="M89.61 1.20 V465.90 M847.92 1.20 V465.90" fill="none" stroke="#6e6e6e" stroke-width="1.7"/>
<path d="M88.83 1.20 H848.70 M88.83 465.90 H848.70 M104.81 465.90 v-8.60 M104.81 1.20 v8.60 M141.23 465.90 v-5.00 M141.23 1.20 v5.00 M177.66 465.90 v-5.00 M177.66 1.20 v5.00 M214.09 465.90 v-5.00 M214.09 1.20 v5.00 M250.52 465.90 v-5.00 M250.52 1.20 v5.00 M286.95 465.90 v-8.60 M286.95 1.20 v8.60 M323.38 465.90 v-5.00 M323.38 1.20 v5.00 M359.81 465.90 v-5.00 M359.81 1.20 v5.00 M396.23 465.90 v-5.00 M396.23 1.20 v5.00 M432.66 465.90 v-5.00 M432.66 1.20 v5.00 M469.09 465.90 v-8.60 M469.09 1.20 v8.60 M505.52 465.90 v-5.00 M505.52 1.20 v5.00 M541.95 465.90 v-5.00 M541.95 1.20 v5.00 M578.38 465.90 v-5.00 M578.38 1.20 v5.00 M614.81 465.90 v-5.00 M614.81 1.20 v5.00 M651.23 465.90 v-8.60 M651.23 1.20 v8.60 M687.66 465.90 v-5.00 M687.66 1.20 v5.00 M724.09 465.90 v-5.00 M724.09 1.20 v5.00 M760.52 465.90 v-5.00 M760.52 1.20 v5.00 M796.95 465.90 v-5.00 M796.95 1.20 v5.00 M833.38 465.90 v-8.60 M833.38 1.20 v8.60 M89.61 454.96 h5.71 M847.92 454.96 h-5.71 M89.61 441.50 h9.35 M847.92 441.50 h-9.35 M89.61 428.04 h5.71 M847.92 428.04 h-5.71 M89.61 414.59 h5.71 M847.92 414.59 h-5.71 M89.61 401.13 h5.71 M847.92 401.13 h-5.71 M89.61 387.68 h5.71 M847.92 387.68 h-5.71 M89.61 374.22 h9.35 M847.92 374.22 h-9.35 M89.61 360.76 h5.71 M847.92 360.76 h-5.71 M89.61 347.31 h5.71 M847.92 347.31 h-5.71 M89.61 333.85 h5.71 M847.92 333.85 h-5.71 M89.61 320.40 h5.71 M847.92 320.40 h-5.71 M89.61 306.94 h9.35 M847.92 306.94 h-9.35 M89.61 293.48 h5.71 M847.92 293.48 h-5.71 M89.61 280.03 h5.71 M847.92 280.03 h-5.71 M89.61 266.57 h5.71 M847.92 266.57 h-5.71 M89.61 253.12 h5.71 M847.92 253.12 h-5.71 M89.61 239.66 h9.35 M847.92 239.66 h-9.35 M89.61 226.20 h5.71 M847.92 226.20 h-5.71 M89.61 212.75 h5.71 M847.92 212.75 h-5.71 M89.61 199.29 h5.71 M847.92 199.29 h-5.71 M89.61 185.84 h5.71 M847.92 185.84 h-5.71 M89.61 172.38 h9.35 M847.92 172.38 h-9.35 M89.61 158.92 h5.71 M847.92 158.92 h-5.71 M89.61 145.47 h5.71 M847.92 145.47 h-5.71 M89.61 132.01 h5.71 M847.92 132.01 h-5.71 M89.61 118.56 h5.71 M847.92 118.56 h-5.71 M89.61 105.10 h9.35 M847.92 105.10 h-9.35 M89.61 91.64 h5.71 M847.92 91.64 h-5.71 M89.61 78.19 h5.71 M847.92 78.19 h-5.71 M89.61 64.73 h5.71 M847.92 64.73 h-5.71 M89.61 51.28 h5.71 M847.92 51.28 h-5.71 M89.61 37.82 h9.35 M847.92 37.82 h-9.35 M89.61 24.36 h5.71 M847.92 24.36 h-5.71 M89.61 10.91 h5.71 M847.92 10.91 h-5.71" fill="none" stroke="#6e6e6e" stroke-width="1.3"/>
<g style="will-change:opacity" opacity="0.999">
<text x="82.60" y="449.00" font-size="20.9" font-weight="bold" fill="#5e5e5e" text-anchor="end">0.0</text>
<text x="82.60" y="381.72" font-size="20.9" font-weight="bold" fill="#5e5e5e" text-anchor="end">0.5</text>
<text x="82.60" y="314.44" font-size="20.9" font-weight="bold" fill="#5e5e5e" text-anchor="end">1.0</text>
<text x="82.60" y="247.16" font-size="20.9" font-weight="bold" fill="#5e5e5e" text-anchor="end">1.5</text>
<text x="82.60" y="179.88" font-size="20.9" font-weight="bold" fill="#5e5e5e" text-anchor="end">2.0</text>
<text x="82.60" y="112.60" font-size="20.9" font-weight="bold" fill="#5e5e5e" text-anchor="end">2.5</text>
<text x="82.60" y="45.32" font-size="20.9" font-weight="bold" fill="#5e5e5e" text-anchor="end">3.0</text>
<text x="104.55" y="491.40" font-size="20.9" font-weight="bold" fill="#5e5e5e" text-anchor="middle">−1.0</text>
<text x="286.69" y="491.40" font-size="20.9" font-weight="bold" fill="#5e5e5e" text-anchor="middle">−0.5</text>
<text x="468.83" y="491.40" font-size="20.9" font-weight="bold" fill="#5e5e5e" text-anchor="middle">0.0</text>
<text x="650.97" y="491.40" font-size="20.9" font-weight="bold" fill="#5e5e5e" text-anchor="middle">0.5</text>
<text x="833.12" y="491.40" font-size="20.9" font-weight="bold" fill="#5e5e5e" text-anchor="middle">1.0</text>
<text x="469.09" y="537.60" font-size="29.5" font-weight="bold" fill="#5e5e5e" stroke="#5e5e5e" stroke-width="0.9" text-anchor="middle">x</text>
<text transform="translate(32.86,316.95) rotate(-90) scale(0.765,1.024)" font-size="30.6" font-weight="bold" font-style="italic" fill="#5e5e5e" stroke="#5e5e5e" stroke-width="0.80" stroke-linejoin="round">H</text>
<text transform="translate(18.38,298.00) rotate(-90) scale(0.957,0.929)" font-size="20.0" font-weight="bold" font-style="italic" fill="#5e5e5e" stroke="#5e5e5e" stroke-width="0.50" stroke-linejoin="round">u</text>
<text transform="translate(19.35,285.35) rotate(-90) scale(0.712,1.314)" font-size="20.0" font-weight="bold" font-style="italic" fill="#5e5e5e" stroke="#5e5e5e" stroke-width="0.30" stroke-linejoin="round">−</text>
<text transform="translate(17.86,276.00) rotate(-90) scale(1.104,0.961)" font-size="20.0" font-weight="bold" font-style="italic" fill="#5e5e5e" stroke="#5e5e5e" stroke-width="0.50" stroke-linejoin="round">d</text>
<text transform="translate(32.73,258.10) rotate(-90) scale(1.067,0.927)" font-size="30.6" font-weight="normal" fill="#5e5e5e" stroke="#5e5e5e" stroke-width="0.90" stroke-linejoin="round">(</text>
<text transform="translate(31.88,246.10) rotate(-90) scale(0.865,0.923)" font-size="30.6" font-weight="bold" fill="#5e5e5e" stroke="#5e5e5e" stroke-width="0.50" stroke-linejoin="round">x</text>
<text transform="translate(32.79,229.35) rotate(-90) scale(0.911,1.021)" font-size="30.6" font-weight="bold" fill="#5e5e5e" stroke="#5e5e5e" stroke-width="0.20" stroke-linejoin="round">,</text>
<text transform="translate(33.77,217.95) rotate(-90) scale(0.754,0.882)" font-size="30.6" font-weight="bold" font-style="italic" fill="#5e5e5e" stroke="#5e5e5e" stroke-width="0.60" stroke-linejoin="round">η</text>
<text transform="translate(32.79,203.75) rotate(-90) scale(0.911,1.021)" font-size="30.6" font-weight="bold" fill="#5e5e5e" stroke="#5e5e5e" stroke-width="0.20" stroke-linejoin="round">,</text>
<text transform="translate(31.75,194.85) rotate(-90) scale(0.933,0.927)" font-size="30.6" font-weight="bold" fill="#5e5e5e" stroke="#5e5e5e" stroke-width="0.30" stroke-linejoin="round">t</text>
<text transform="translate(32.99,187.05) rotate(-90) scale(1.089,0.889)" font-size="30.6" font-weight="bold" fill="#5e5e5e" stroke="#5e5e5e" stroke-width="0.20" stroke-linejoin="round">;</text>
<text transform="translate(33.44,172.35) rotate(-90) scale(0.816,0.894)" font-size="30.6" font-weight="bold" font-style="italic" fill="#5e5e5e" stroke="#5e5e5e" stroke-width="0.60" stroke-linejoin="round">μ</text>
<text transform="translate(32.60,159.35) rotate(-90) scale(1.067,0.888)" font-size="30.6" font-weight="normal" fill="#5e5e5e" stroke="#5e5e5e" stroke-width="0.90" stroke-linejoin="round">)</text>
<text x="153.64" y="119.40" font-size="23.1" font-weight="bold" fill="#000" letter-spacing="0.5" stroke="#000" stroke-width="0.35" style="font-family:'Liberation Serif',serif">THIS WORK</text>
</g>
</g></svg></body></html>
